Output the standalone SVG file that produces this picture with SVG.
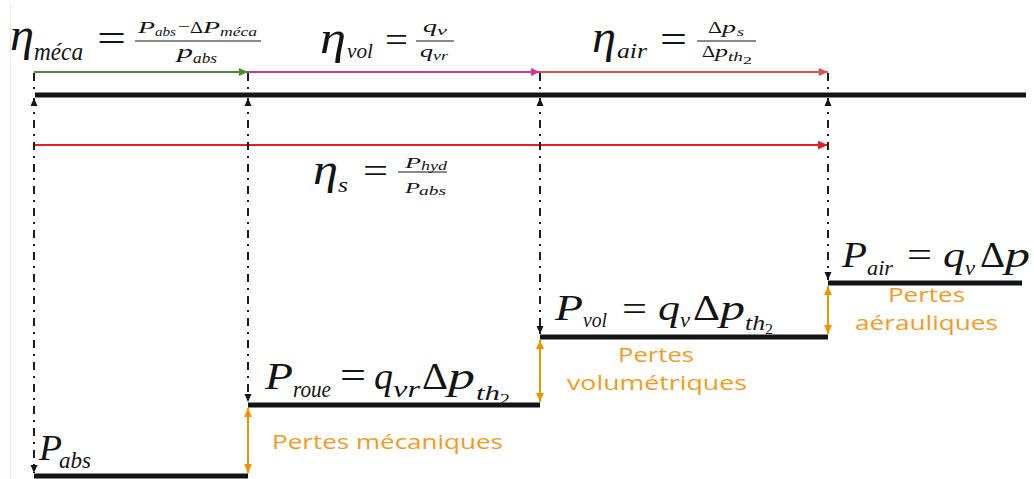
<svg xmlns="http://www.w3.org/2000/svg" width="1034" height="479" viewBox="0 0 1034 479">
<style>
.m{font-family:"Liberation Serif","Times New Roman",serif;font-style:italic;fill:#141414}
.u{font-style:normal}
.o{font-family:"Open Sans","Noto Sans",sans-serif;fill:#f39a1e;font-size:20px}
.bar{stroke:#141414;stroke-width:5}
.fb{stroke:#141414;stroke-width:1.2}
.dd{stroke:#1e1e1e;stroke-width:2;stroke-dasharray:8 6 2 6;fill:none}
.oa{stroke:#f39200;stroke-width:2}
</style>
<defs>
<marker id="ab" viewBox="0 0 8 8" refX="8" refY="4" markerWidth="8" markerHeight="8" markerUnits="userSpaceOnUse" orient="auto-start-reverse"><path d="M0,0.5 L8,4 L0,7.5z" fill="#141414"/></marker>
<marker id="ag" viewBox="0 0 8 8" refX="8" refY="4" markerWidth="9" markerHeight="9" markerUnits="userSpaceOnUse" orient="auto-start-reverse"><path d="M0,0.5 L8,4 L0,7.5z" fill="#4f8a3b"/></marker>
<marker id="am" viewBox="0 0 8 8" refX="8" refY="4" markerWidth="9" markerHeight="9" markerUnits="userSpaceOnUse" orient="auto-start-reverse"><path d="M0,0.5 L8,4 L0,7.5z" fill="#d1339b"/></marker>
<marker id="ac" viewBox="0 0 8 8" refX="8" refY="4" markerWidth="9" markerHeight="9" markerUnits="userSpaceOnUse" orient="auto-start-reverse"><path d="M0,0.5 L8,4 L0,7.5z" fill="#d9534f"/></marker>
<marker id="ar" viewBox="0 0 8 8" refX="8" refY="4" markerWidth="10" markerHeight="10" markerUnits="userSpaceOnUse" orient="auto-start-reverse"><path d="M0,0.5 L8,4 L0,7.5z" fill="#e31e25"/></marker>
<marker id="ao" viewBox="0 0 8 8" refX="8" refY="4" markerWidth="9" markerHeight="9" markerUnits="userSpaceOnUse" orient="auto-start-reverse"><path d="M0,0.5 L8,4 L0,7.5z" fill="#f39200"/></marker>
</defs>
<rect width="1034" height="479" fill="#ffffff"/>
<line x1="10.5" y1="5" x2="10.5" y2="479" stroke="#f6e1e7" stroke-width="1"/>

<g id="axis">
<line class="bar" x1="35" y1="95" x2="1026" y2="95"/>
</g>

<g id="eta-meca">
<text class="m" x="10" y="50" font-size="46" textLength="24" lengthAdjust="spacingAndGlyphs">η</text>
<text class="m" x="34" y="60" font-size="25" textLength="49" lengthAdjust="spacingAndGlyphs">méca</text>
<text class="m u" x="97" y="52" font-size="40" textLength="29" lengthAdjust="spacingAndGlyphs">=</text>
<text class="m" x="138" y="33" font-size="16" textLength="17" lengthAdjust="spacingAndGlyphs">P</text>
<text class="m" x="155" y="36" font-size="12" textLength="21" lengthAdjust="spacingAndGlyphs">abs</text>
<text class="m u" x="178" y="32" font-size="16" textLength="12" lengthAdjust="spacingAndGlyphs">−</text>
<text class="m u" x="190" y="33" font-size="16" textLength="13" lengthAdjust="spacingAndGlyphs">Δ</text>
<text class="m" x="203" y="33" font-size="16" textLength="17" lengthAdjust="spacingAndGlyphs">P</text>
<text class="m" x="220" y="36" font-size="12" textLength="37" lengthAdjust="spacingAndGlyphs">méca</text>
<line class="fb" x1="135" y1="41" x2="261" y2="41"/>
<text class="m" x="177" y="58" font-size="18" textLength="16" lengthAdjust="spacingAndGlyphs">p</text>
<text class="m" x="193" y="63" font-size="14" textLength="24" lengthAdjust="spacingAndGlyphs">abs</text>
</g>

<g id="eta-vol">
<text class="m" x="320" y="53" font-size="46" textLength="26" lengthAdjust="spacingAndGlyphs">η</text>
<text class="m" x="347" y="58" font-size="22" textLength="26" lengthAdjust="spacingAndGlyphs">vol</text>
<text class="m u" x="385" y="52" font-size="36" textLength="23" lengthAdjust="spacingAndGlyphs">=</text>
<text class="m" x="423" y="32" font-size="17" textLength="14" lengthAdjust="spacingAndGlyphs">q</text>
<text class="m" x="437" y="35" font-size="12" textLength="10" lengthAdjust="spacingAndGlyphs">v</text>
<line class="fb" x1="416" y1="41" x2="454" y2="41"/>
<text class="m" x="420" y="57" font-size="17" textLength="13" lengthAdjust="spacingAndGlyphs">q</text>
<text class="m" x="433" y="60" font-size="12" textLength="15" lengthAdjust="spacingAndGlyphs">vr</text>
</g>

<g id="eta-air">
<text class="m" x="592" y="52" font-size="46" textLength="24" lengthAdjust="spacingAndGlyphs">η</text>
<text class="m" x="617" y="58" font-size="22" textLength="30" lengthAdjust="spacingAndGlyphs">air</text>
<text class="m u" x="660" y="52" font-size="38" textLength="27" lengthAdjust="spacingAndGlyphs">=</text>
<text class="m u" x="708" y="33" font-size="17" textLength="14" lengthAdjust="spacingAndGlyphs">Δ</text>
<text class="m" x="722" y="33" font-size="17" textLength="14" lengthAdjust="spacingAndGlyphs">p</text>
<text class="m" x="737" y="36" font-size="12" textLength="7" lengthAdjust="spacingAndGlyphs">s</text>
<line class="fb" x1="697" y1="41" x2="756" y2="41"/>
<text class="m u" x="702" y="57" font-size="17" textLength="13" lengthAdjust="spacingAndGlyphs">Δ</text>
<text class="m" x="715" y="57" font-size="17" textLength="13" lengthAdjust="spacingAndGlyphs">p</text>
<text class="m" x="728" y="61" font-size="12" textLength="15" lengthAdjust="spacingAndGlyphs">th</text>
<text class="m u" x="743" y="64" font-size="10" textLength="9" lengthAdjust="spacingAndGlyphs">2</text>
</g>

<g id="eta-s">
<text class="m" x="313" y="184" font-size="44" textLength="25" lengthAdjust="spacingAndGlyphs">η</text>
<text class="m" x="338" y="192" font-size="20" textLength="10" lengthAdjust="spacingAndGlyphs">s</text>
<text class="m u" x="363" y="183" font-size="36" textLength="25" lengthAdjust="spacingAndGlyphs">=</text>
<text class="m" x="405" y="168" font-size="15" textLength="16" lengthAdjust="spacingAndGlyphs">P</text>
<text class="m" x="421" y="170" font-size="12" textLength="26" lengthAdjust="spacingAndGlyphs">hyd</text>
<line class="fb" x1="398" y1="172" x2="447" y2="172"/>
<text class="m" x="405" y="193" font-size="15" textLength="15" lengthAdjust="spacingAndGlyphs">P</text>
<text class="m" x="419" y="195" font-size="12" textLength="27" lengthAdjust="spacingAndGlyphs">abs</text>
</g>

<g id="p-abs">
<line class="bar" x1="34" y1="476" x2="248" y2="476"/>
<text class="m" x="39" y="460" font-size="36" textLength="23" lengthAdjust="spacingAndGlyphs">P</text>
<text class="m" x="59" y="468" font-size="24" textLength="32" lengthAdjust="spacingAndGlyphs">abs</text>
</g>

<g id="p-roue">
<line class="bar" x1="248" y1="405" x2="540" y2="405"/>
<text class="m" x="265" y="389" font-size="38" textLength="28" lengthAdjust="spacingAndGlyphs">P</text>
<text class="m" x="293" y="397" font-size="24" textLength="38" lengthAdjust="spacingAndGlyphs">roue</text>
<text class="m u" x="340" y="388" font-size="38" textLength="26" lengthAdjust="spacingAndGlyphs">=</text>
<text class="m" x="374" y="389" font-size="38" textLength="19" lengthAdjust="spacingAndGlyphs">q</text>
<text class="m" x="393" y="397" font-size="24" textLength="27" lengthAdjust="spacingAndGlyphs">vr</text>
<text class="m u" x="422" y="389" font-size="38" textLength="26" lengthAdjust="spacingAndGlyphs">Δ</text>
<text class="m" x="448" y="389" font-size="38" textLength="27" lengthAdjust="spacingAndGlyphs">p</text>
<text class="m" x="476" y="400" font-size="22" textLength="24" lengthAdjust="spacingAndGlyphs">th</text>
<text class="m u" x="500" y="404" font-size="15" textLength="10" lengthAdjust="spacingAndGlyphs">2</text>
<text class="o" x="272" y="449" textLength="231" lengthAdjust="spacingAndGlyphs">Pertes mécaniques</text>
</g>

<g id="p-vol">
<line class="bar" x1="540" y1="337" x2="828" y2="337"/>
<text class="m" x="555" y="320" font-size="36" textLength="28" lengthAdjust="spacingAndGlyphs">P</text>
<text class="m" x="583" y="327" font-size="22" textLength="24" lengthAdjust="spacingAndGlyphs">vol</text>
<text class="m u" x="622" y="321" font-size="36" textLength="25" lengthAdjust="spacingAndGlyphs">=</text>
<text class="m" x="658" y="320" font-size="36" textLength="22" lengthAdjust="spacingAndGlyphs">q</text>
<text class="m" x="680" y="327" font-size="22" textLength="10" lengthAdjust="spacingAndGlyphs">v</text>
<text class="m u" x="693" y="320" font-size="36" textLength="27" lengthAdjust="spacingAndGlyphs">Δ</text>
<text class="m" x="720" y="320" font-size="36" textLength="25" lengthAdjust="spacingAndGlyphs">p</text>
<text class="m" x="745" y="330" font-size="20" textLength="20" lengthAdjust="spacingAndGlyphs">th</text>
<text class="m u" x="765" y="334" font-size="14" textLength="8" lengthAdjust="spacingAndGlyphs">2</text>
<text class="o" x="618" y="362" textLength="76" lengthAdjust="spacingAndGlyphs">Pertes</text>
<text class="o" x="567" y="390" textLength="180" lengthAdjust="spacingAndGlyphs">volumétriques</text>
</g>

<g id="p-air">
<line class="bar" x1="828" y1="283" x2="1022" y2="283"/>
<text class="m" x="842" y="267" font-size="36" textLength="25" lengthAdjust="spacingAndGlyphs">P</text>
<text class="m" x="867" y="275" font-size="22" textLength="26" lengthAdjust="spacingAndGlyphs">air</text>
<text class="m u" x="907" y="267" font-size="36" textLength="25" lengthAdjust="spacingAndGlyphs">=</text>
<text class="m" x="943" y="267" font-size="36" textLength="22" lengthAdjust="spacingAndGlyphs">q</text>
<text class="m" x="965" y="275" font-size="22" textLength="10" lengthAdjust="spacingAndGlyphs">v</text>
<text class="m u" x="980" y="267" font-size="36" textLength="25" lengthAdjust="spacingAndGlyphs">Δ</text>
<text class="m" x="1005" y="267" font-size="36" textLength="25" lengthAdjust="spacingAndGlyphs">p</text>
<text class="o" x="888" y="302" textLength="77" lengthAdjust="spacingAndGlyphs">Pertes</text>
<text class="o" x="855" y="330" textLength="143" lengthAdjust="spacingAndGlyphs">aérauliques</text>
</g>

<g id="connectors">
<line x1="34" y1="72" x2="248" y2="72" stroke="#4f8a3b" stroke-width="2" marker-end="url(#ag)"/>
<line x1="248" y1="72" x2="540" y2="72" stroke="#d1339b" stroke-width="2" marker-end="url(#am)"/>
<line x1="540" y1="72" x2="828" y2="72" stroke="#d9534f" stroke-width="2" marker-end="url(#ac)"/>
<line x1="34" y1="145" x2="828" y2="145" stroke="#e31e25" stroke-width="2.2" marker-end="url(#ar)"/>
<line class="dd" x1="34" y1="73" x2="34" y2="92"/>
<line class="dd" x1="248" y1="73" x2="248" y2="92"/>
<line class="dd" x1="540" y1="73" x2="540" y2="92"/>
<line class="dd" x1="828" y1="73" x2="828" y2="92"/>
<line class="dd" x1="34" y1="98" x2="34" y2="473" marker-start="url(#ab)" marker-end="url(#ab)"/>
<line class="dd" x1="248" y1="98" x2="248" y2="402" marker-start="url(#ab)" marker-end="url(#ab)"/>
<line class="dd" x1="540" y1="98" x2="540" y2="334" marker-start="url(#ab)" marker-end="url(#ab)"/>
<line class="dd" x1="828" y1="98" x2="828" y2="280" marker-start="url(#ab)" marker-end="url(#ab)"/>
<line class="oa" x1="248" y1="408" x2="248" y2="473" marker-start="url(#ao)" marker-end="url(#ao)"/>
<line class="oa" x1="540" y1="340" x2="540" y2="402" marker-start="url(#ao)" marker-end="url(#ao)"/>
<line class="oa" x1="828" y1="286" x2="828" y2="334" marker-start="url(#ao)" marker-end="url(#ao)"/>
</g>
</svg>
